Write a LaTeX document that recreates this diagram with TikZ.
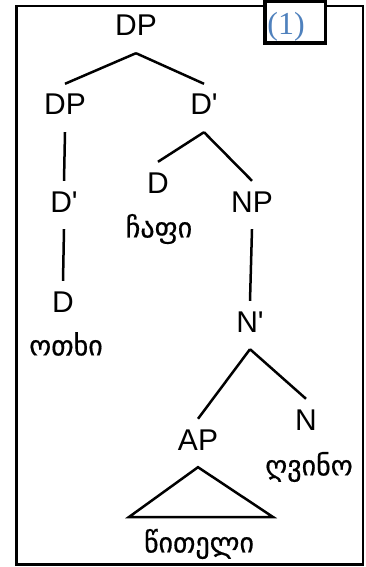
\documentclass[tikz,border=0pt]{standalone}
\usepackage{fontspec}
\setmainfont{Liberation Sans}
\newfontfamily\kafont[Script=Georgian,FakeBold=0.6]{DejaVu Sans}
\newfontfamily\numfont{Liberation Serif}
\definecolor{exblue}{RGB}{79,129,189}

\begin{document}
\begin{tikzpicture}[x=1pt,y=-1pt]

      \useasboundingbox (0,0) rectangle (366,567);
      \draw[line width=2.5pt] (16.5,6) rectangle (363,564.5);

      % example number
      \draw[line width=3.5pt,fill=white] (265,1.7) rectangle (325.5,43);
      \node[inner sep=0pt,text=exblue,font=\numfont\fontsize{32}{32}\selectfont] (exnum) at (286,27) {(1)};

      \begin{scope}[every node/.style={anchor=base,inner sep=0pt,text height=31pt,text depth=17pt,font=\fontsize{30}{30}\selectfont}]
        \node (dp) at (136,36) {DP};
        \node (dpl) at (65,115) {DP};
        \node (dbar) at (204,115) {D\textquotesingle};
        \node (dbarl) at (64,212) {D\textquotesingle};
        \node (dl) at (63,312) {D};
        \node (dm) at (158,193) {D};
        \node (np) at (252,212) {NP};
        \node (nbar) at (250,332) {N\textquotesingle};
        \node (ap) at (198,450) {AP};
        \node (n) at (306,430) {N};
      \end{scope}

      \begin{scope}[every node/.style={inner sep=0pt,font=\kafont\fontsize{28}{28}\selectfont}]
        \node (otxi) at (66,344) {ოთხი};
        \node (chapi) at (159,229) {ჩაფი};
        \node (ghvino) at (309,467) {ღვინო};
        \node (citeli) at (199,544) {წითელი};
      \end{scope}

      \coordinate (tril) at (129,517);
      \coordinate (trir) at (273,517);

      \begin{scope}[every edge/.style={draw,line width=2.5pt}]
        \path (dp.south) edge (dpl.north);
        \path (dp.south) edge (dbar.north);
        \path (dpl.south) edge (dbarl.north);
        \path (dbarl.south) edge (dl.north);
        \path (dbar.south) edge (dm.north);
        \path (dbar.south) edge (np.north);
        \path (np.south) edge (nbar.north);
        \path (nbar.south) edge (ap.north);
        \path (nbar.south) edge (n.north);
      \end{scope}

      \draw[line width=2.5pt] (ap.south) -- (tril) -- (trir) -- cycle;

    \end{tikzpicture}
\end{document}
